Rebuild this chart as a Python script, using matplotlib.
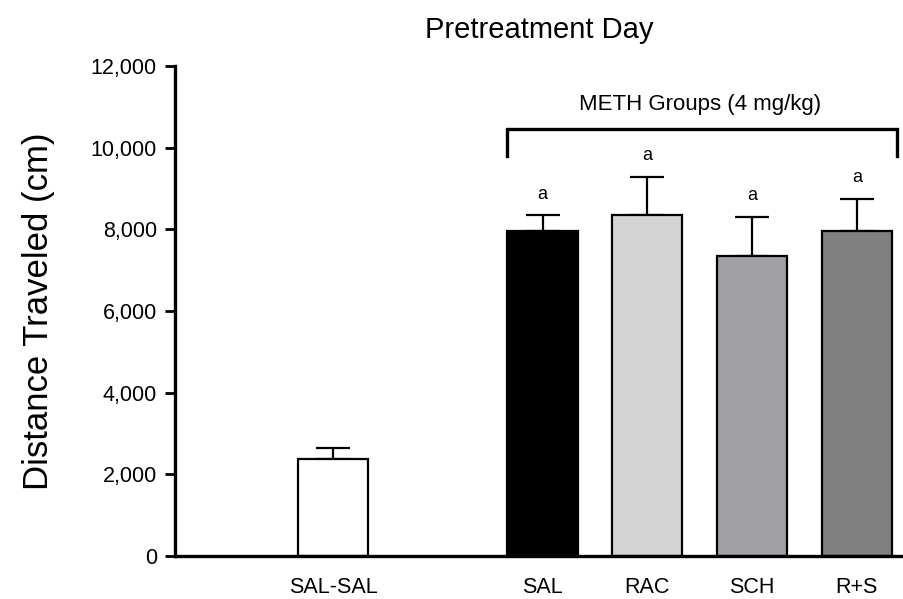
import matplotlib
matplotlib.use("Agg")
import matplotlib.pyplot as plt

plt.rcParams["font.family"] = ["Liberation Sans", "DejaVu Sans"]

# Group means and SEM (cm traveled)
groups = ["SAL-SAL", "SAL", "RAC", "SCH", "R+S"]
positions = [0, 2, 3, 4, 5]
means = [2375, 7950, 8350, 7350, 7950]
sems = [270, 390, 940, 960, 800]
bar_colors = ["#ffffff", "#000000", "#d4d4d4", "#a1a1a5", "#808080"]
sig_marks = ["", "a", "a", "a", "a"]

fig = plt.figure(figsize=(9.04, 5.99), dpi=100)
ax = fig.add_axes([175 / 904, 43 / 599, 729 / 904, 490 / 599])

ax.bar(positions, means, width=0.67, color=bar_colors, edgecolor="black",
       linewidth=1.6, zorder=2)
ax.errorbar(positions, means, yerr=[[0] * len(means), sems], fmt="none",
            ecolor="black", elinewidth=1.6, capsize=12.5, capthick=1.6, zorder=1)

for x, m, s, mark in zip(positions, means, sems, sig_marks):
    if mark:
        ax.text(x, m + s + 300, mark, ha="center", va="bottom", fontsize=13)

# bracket over the METH groups
ax.plot([1.66, 1.66, 5.38, 5.38], [9800, 10450, 10450, 9800], color="black",
        linewidth=2.4, clip_on=False, solid_joinstyle="miter")
ax.text(3.50, 10800, "METH Groups (4 mg/kg)", ha="center", va="bottom",
        fontsize=16)

ax.set_xlim(-1.508, 5.45)
ax.set_ylim(0, 12000)
ax.set_yticks(range(0, 12001, 2000))
ax.set_yticklabels([f"{v:,}" for v in range(0, 12001, 2000)], fontsize=15.5)
ax.set_xticks(positions)
ax.set_xticklabels(groups, fontsize=15.5)
ax.tick_params(axis="x", length=0, pad=15)
ax.tick_params(axis="y", length=7, width=2, pad=6)

for side in ["top", "right"]:
    ax.spines[side].set_visible(False)
for side in ["left", "bottom"]:
    ax.spines[side].set_linewidth(2.4)

ax.set_ylabel("Distance Traveled (cm)", fontsize=25, labelpad=26)
ax.set_title("Pretreatment Day", fontsize=21, pad=20, x=0.50)

fig.savefig("out.png", dpi=100)
